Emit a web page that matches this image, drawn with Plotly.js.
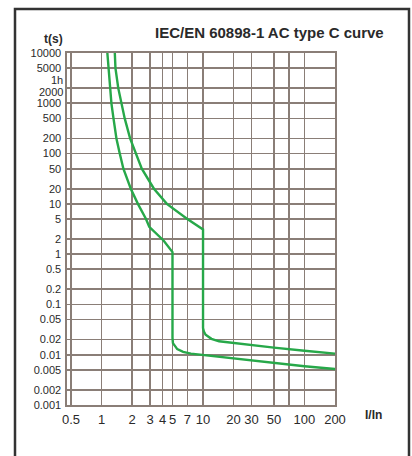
<!DOCTYPE html>
<html>
<head>
<meta charset="utf-8">
<script src="https://cdn.plot.ly/plotly-3.0.1.min.js"></script>
<style>
html,body{margin:0;padding:0;background:#fff;}
#chart{width:412px;height:456px;}
</style>
</head>
<body>
<div id="chart"></div>
<script>
// Tick values / labels
const xTickVals = [0.5, 1, 2, 3, 4, 5, 7, 10, 20, 30, 50, 70, 100, 200];
const xTickText = ['0.5', '1', '2', '3', '4', '5', '7', '10', '20', '30', '50', '', '100', '200'];
const yTickVals = [10000, 5000, 2000, 1000, 500, 200, 100, 50, 20, 10, 5, 2, 1, 0.5, 0.2, 0.1, 0.05, 0.02, 0.01, 0.005, 0.002, 0.001];
// 2000 and 1h are written as shifted labels (crowded in the reference)
const yTickText = ['10000', '5000', '', '1000', '500', '200', '100', '50', '20', '10', '5', '2', '1', '0.5', '0.2', '0.1', '0.05', '0.02', '0.01', '0.005', '0.002', '0.001'];
const shiftedLabels = ['1h', '2000'];
const shiftedValues = [3600, 2000];
const shiftedOffsets = [-5, -4];

// Lower trip boundary (I/In, t in s)
const lowerX = [1.14, 1.167, 1.205, 1.25, 1.31, 1.40, 1.51, 1.64, 1.94, 2.28, 2.74, 2.95, 4.1, 5, 5, 5.05, 5.57, 6.37, 7.6, 9.0, 20, 50, 100, 200];
const lowerY = [10000, 5000, 2000, 1000, 500, 200, 100, 50, 20, 10, 5, 3.5, 1.85, 1.1, 0.0216, 0.017, 0.0129, 0.0114, 0.0105, 0.0101, 0.0086, 0.0069, 0.0059, 0.0052];

// Upper trip boundary
const upperX = [1.35, 1.37, 1.46, 1.57, 1.69, 1.91, 2.18, 2.49, 3.28, 4.4, 7.0, 10, 10, 10.2, 10.6, 12.1, 14.4, 20, 50, 100, 200];
const upperY = [10000, 5000, 2000, 1000, 500, 200, 100, 50, 20, 10, 5, 3.1, 0.034, 0.029, 0.025, 0.0207, 0.0185, 0.017, 0.0138, 0.012, 0.0105];

const green = '#27a849';
const gridCol = '#8a7e77';
const textCol = '#2a2a2a';
const FONT = 'Liberation Sans, Arial, sans-serif';

const traces = [
  {x: lowerX, y: lowerY, type: 'scatter', mode: 'lines', line: {color: green, width: 2.4}, hoverinfo: 'skip'},
  {x: upperX, y: upperY, type: 'scatter', mode: 'lines', line: {color: green, width: 2.4}, hoverinfo: 'skip'}
];

const annotations = [
  {text: '<b>IEC/EN 60898-1 AC type C curve</b>', xref: 'paper', yref: 'paper',
   x: (386 - 67) / 268, y: (405 - 32) / 352, xanchor: 'right', yanchor: 'middle',
   showarrow: false, font: {family: FONT, size: 15, color: textCol}},
  {text: '<b>t(s)</b>', xref: 'paper', yref: 'paper',
   x: (53 - 67) / 268, y: (405 - 39) / 352, xanchor: 'center', yanchor: 'middle',
   showarrow: false, font: {family: FONT, size: 12, color: textCol}},
  {text: '<b>I/In</b>', xref: 'paper', yref: 'paper',
   x: (373 - 67) / 268, y: (405 - 415) / 352, xanchor: 'center', yanchor: 'middle',
   showarrow: false, font: {family: FONT, size: 12, color: textCol}}
];
shiftedLabels.forEach((t, i) => {
  annotations.push({text: t, xref: 'paper', yref: 'y',
    x: 0, y: Math.log10(shiftedValues[i]), xanchor: 'right', yanchor: 'middle',
    xshift: -3, yshift: shiftedOffsets[i], borderpad: 0,
    showarrow: false, font: {family: FONT, size: 11, color: textCol}});
});

const layout = {
  width: 412, height: 456,
  margin: {l: 67, r: 77, t: 53, b: 51, pad: 0},
  paper_bgcolor: '#ffffff', plot_bgcolor: '#ffffff',
  showlegend: false,
  font: {family: FONT, color: textCol},
  xaxis: {
    type: 'log',
    range: [Math.log10(0.5) - 0.04, Math.log10(200)],
    tickmode: 'array', tickvals: xTickVals, ticktext: xTickText,
    tickangle: 0,
    showgrid: true, gridcolor: gridCol, gridwidth: 1.6,
    showline: true, linecolor: gridCol, linewidth: 1.6, mirror: true,
    ticks: 'outside', ticklen: 2, tickcolor: 'rgba(0,0,0,0)',
    tickfont: {family: FONT, size: 13, color: textCol},
    zeroline: false, fixedrange: true
  },
  yaxis: {
    type: 'log',
    range: [-3, 4],
    tickmode: 'array', tickvals: yTickVals, ticktext: yTickText,
    showgrid: true, gridcolor: gridCol, gridwidth: 1.6,
    showline: true, linecolor: gridCol, linewidth: 1.6, mirror: true,
    ticks: 'outside', ticklen: 2, tickcolor: 'rgba(0,0,0,0)',
    tickfont: {family: FONT, size: 11, color: textCol},
    zeroline: false, fixedrange: true
  },
  annotations: annotations,
  shapes: [
    {type: 'rect', xref: 'paper', yref: 'paper',
     x0: (15 - 67) / 268, x1: (409 - 67) / 268,
     y0: (405 - 470) / 352, y1: (405 - 9) / 352,
     line: {color: '#333333', width: 2.5}, fillcolor: 'rgba(0,0,0,0)', layer: 'below'}
  ]
};

Plotly.newPlot('chart', traces, layout, {displayModeBar: false, staticPlot: true});
</script>
</body>
</html>
